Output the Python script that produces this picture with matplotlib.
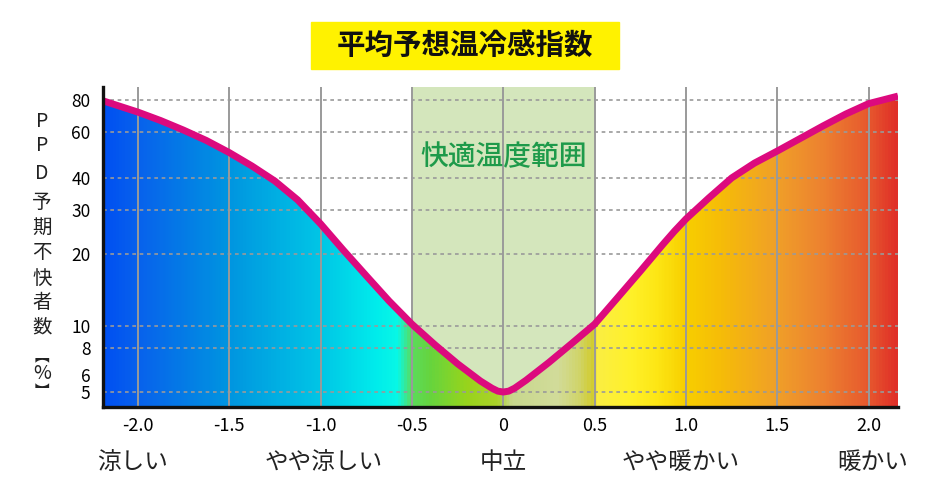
import numpy as np
import matplotlib
matplotlib.use("Agg")
import matplotlib.pyplot as plt
from matplotlib.colors import LinearSegmentedColormap
from matplotlib.patches import Polygon, Rectangle

plt.rcParams['font.family'] = ['Noto Sans CJK JP', 'DejaVu Sans']

# PMV (predicted mean vote) vs PPD (% dissatisfied)
pmv = [-2.19, -2.0, -1.875, -1.75, -1.625, -1.5, -1.375, -1.25, -1.125, -1.0,
       -0.875, -0.75, -0.625, -0.5, -0.375, -0.25, -0.125, -0.0625, -0.03,
       0.0, 0.03, 0.0625, 0.125, 0.25, 0.375, 0.5, 0.625, 0.75, 0.875,
       0.9375, 1.0, 1.125, 1.25, 1.375, 1.5, 1.625, 1.75, 1.875, 2.0, 2.16]
ppd = [79.4, 71.9, 66.7, 61.3, 55.9, 50.2, 44.5, 38.9, 32.8, 26.4,
       20.7, 16.3, 12.8, 10.2, 8.3, 6.8, 5.65, 5.22, 5.05,
       5.0, 5.05, 5.22, 5.7, 6.9, 8.4, 10.2, 13.2, 17.0, 21.9,
       24.7, 27.6, 33.4, 40.0, 45.7, 50.9, 56.9, 63.6, 70.7, 77.5, 82.8]

x_ticks = [-2.0, -1.5, -1.0, -0.5, 0.0, 0.5, 1.0, 1.5, 2.0]
x_ticklabels = ["-2.0", "-1.5", "-1.0", "-0.5", "0", "0.5", "1.0", "1.5", "2.0"]
y_ticks = [5, 6, 8, 10, 20, 30, 40, 60, 80]
y_grid = [5, 8, 10, 20, 30, 40, 60, 80]
comfort = (-0.5, 0.5)
sense_x = [-2.03, -0.98, 0.0, 0.97, 2.02]
sense_labels = ["涼しい", "やや涼しい", "中立", "やや暖かい", "暖かい"]
ylabel_chars = ["P", "P", "D", "予", "期", "不", "快", "者", "数", "︻", "%", "︼"]

XLIM = (-2.19, 2.16)
YLIM = (4.21, 89.7)

# colour stops of the horizontal gradient, keyed by PMV
grad_stops = [(-2.19, "#0050f2"), (-2.0, "#0862ec"), (-1.5, "#0096e0"),
              (-1.0, "#00c6e6"), (-0.7, "#00ecec"), (-0.58, "#08f8e6"),
              (-0.5, "#5cdc5a"), (-0.4, "#66d43e"), (-0.2, "#98d41c"),
              (-0.03, "#acd22a"), (0.05, "#c8d88e"), (0.3, "#d2dc9a"),
              (0.42, "#d0d468"), (0.49, "#d2cc30"), (0.51, "#fbee44"),
              (0.7, "#fff12a"), (0.85, "#fde614"), (1.0, "#f8cf00"),
              (1.2, "#f6bc08"), (1.5, "#f0a028"), (1.75, "#ed8330"),
              (2.0, "#e75a2e"), (2.16, "#e03028")]


def fwd(v):
    return np.log10(np.maximum(np.asarray(v, dtype=float) + 1.5, 1e-6))


def inv(v):
    return 10 ** np.asarray(v, dtype=float) - 1.5


fig = plt.figure(figsize=(9.3, 4.92), dpi=100)
ax = fig.add_axes([0.1108, 0.1728, 0.8548, 0.6504])
ax.set_yscale("function", functions=(fwd, inv))
ax.set_xlim(*XLIM)
ax.set_ylim(*YLIM)

# comfort zone
ax.axvspan(*comfort, color="#d4e6bc", zorder=0, lw=0)

# gradient under the curve
span = XLIM[1] - XLIM[0]
cmap = LinearSegmentedColormap.from_list(
    "pmv", [((p - XLIM[0]) / span, c) for p, c in grad_stops])
grad = np.linspace(0, 1, 800)[None, :]
im = ax.imshow(grad, cmap=cmap, aspect="auto", extent=(0, 1, 0, 1),
               transform=ax.transAxes, zorder=1, interpolation="bilinear")
verts = list(zip(pmv, ppd)) + [(pmv[-1], YLIM[0]), (pmv[0], YLIM[0])]
clip = Polygon(verts, closed=True, transform=ax.transData,
               facecolor="none", edgecolor="none")
ax.add_patch(clip)
im.set_clip_path(clip)

# grid
for y in y_grid:
    ax.axhline(y, color="#9a9a9a", lw=1.2, ls=(0, (2.2, 2.2)), zorder=2)
for x in x_ticks:
    ax.axvline(x, color="#9a9a9a", lw=1.4, zorder=2)

ax.plot(pmv, ppd, color="#dc0a7e", lw=5, solid_joinstyle="round",
        solid_capstyle="butt", zorder=4)

ax.text(0.0, 0.781, "快適温度範囲", transform=ax.get_xaxis_transform(),
        ha="center", va="center", fontsize=20, fontweight="medium",
        color="#1e9a4a", zorder=5)

for s in ("top", "right"):
    ax.spines[s].set_visible(False)
for s in ("left", "bottom"):
    ax.spines[s].set_linewidth(2.4)
    ax.spines[s].set_color("#111111")
    ax.spines[s].set_zorder(6)

ax.set_xticks(x_ticks)
ax.set_xticklabels(x_ticklabels, fontsize=13)
ax.set_yticks(y_ticks)
ax.set_yticklabels([str(v) for v in y_ticks], fontsize=12.5)
ax.yaxis.set_minor_locator(matplotlib.ticker.NullLocator())
ax.tick_params(axis="both", length=0)
ax.tick_params(axis="x", pad=7)
ax.tick_params(axis="y", pad=9)

for x, lab in zip(sense_x, sense_labels):
    ax.text(x, -0.175, lab, transform=ax.get_xaxis_transform(), ha="center",
            va="center", fontsize=17, color="#222222", clip_on=False)

# vertical y label, one character per row
y0 = 1 - 121.7 / 492
steps = [0, 23.5, 28, 29, 25, 25, 26, 24.5, 24.5, 28.5, 18, 17.5]
ypos = y0
for ch, st in zip(ylabel_chars, steps):
    ypos -= st / 492
    fs = 10.5 if ch in "︻︼" else 14
    fig.text(42 / 930, ypos, ch, ha="center", va="center", fontsize=fs,
             color="#222222", fontweight="bold" if ch in "︻︼" else "normal")

# title box
fig.patches.append(Rectangle((0.334, 0.860), 0.332, 0.0955,
                             transform=fig.transFigure, color="#fff200",
                             zorder=0))
fig.text(0.5, 0.9075, "平均予想温冷感指数", ha="center", va="center",
         fontsize=20.5, fontweight="bold", color="#111111")

fig.savefig("out.png", dpi=100)
